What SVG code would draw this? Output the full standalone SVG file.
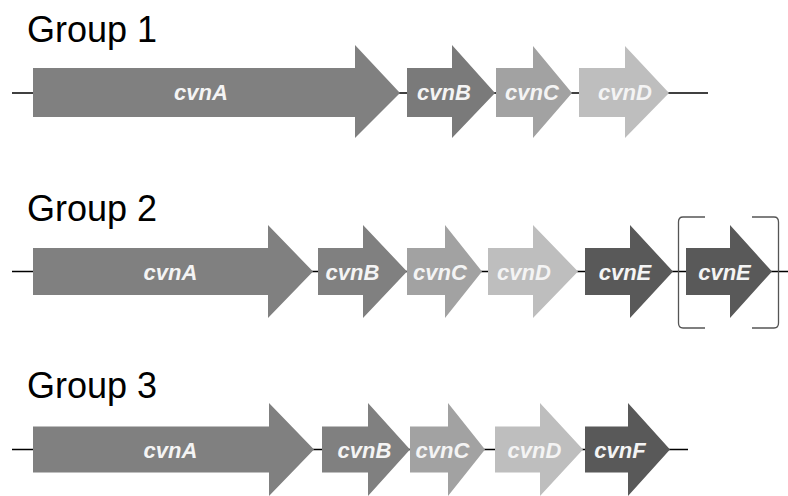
<svg xmlns="http://www.w3.org/2000/svg" width="788" height="496" viewBox="0 0 788 496">
<style>
.title{font-family:"Liberation Sans",Arial,sans-serif;font-size:36px;fill:#000}
.lbl{font-family:"Liberation Sans",Arial,sans-serif;font-size:22px;font-weight:bold;font-style:italic;fill:#f4f4f4;text-anchor:middle}
.bb{stroke:#000;stroke-width:1.6;fill:none}
.br{stroke:#555;stroke-width:1.3;fill:none}
.a{fill:#808080}.b{fill:#7a7a7a}.c{fill:#a2a2a2}.d{fill:#bebebe}.e{fill:#595959}
</style>
<rect width="788" height="496" fill="#fff"/>
<g id="titles">
<text class="title" x="27" y="42">Group 1</text>
<text class="title" x="27" y="221">Group 2</text>
<text class="title" x="27" y="398">Group 3</text>
</g>
<g id="connectors">
<line class="bb" x1="12" y1="93" x2="708" y2="93"/>
<line class="bb" x1="12" y1="271.5" x2="788" y2="271.5"/>
<line class="bb" x1="12" y1="449.5" x2="688" y2="449.5"/>
</g>
<!-- Group 1 -->
<g id="g1-cvnA"><polygon class="a" points="33,68 355,68 355,45 400,93 355,138 355,117 33,117"/><text class="lbl" x="201" y="100">cvnA</text></g>
<g id="g1-cvnB"><polygon class="b" points="407,68 452,68 452,45 495,93 452,138 452,117 407,117"/><text class="lbl" x="444" y="100">cvnB</text></g>
<g id="g1-cvnC"><polygon class="c" points="496,68 533,68 533,46 572,93 533,138 533,117 496,117"/><text class="lbl" x="532" y="100">cvnC</text></g>
<g id="g1-cvnD"><polygon class="d" points="579,68 625,68 625,46 669,93 625,138 625,117 579,117"/><text class="lbl" x="625" y="100">cvnD</text></g>
<!-- Group 2 -->
<g id="g2-cvnA"><polygon class="a" points="33,248 268,248 268,225 313,271.5 268,318 268,295 33,295"/><text class="lbl" x="170.5" y="279.5">cvnA</text></g>
<g id="g2-cvnB"><polygon class="a" points="318,248 363,248 363,225 407,271.5 363,318 363,295 318,295"/><text class="lbl" x="352.5" y="279.5">cvnB</text></g>
<g id="g2-cvnC"><polygon class="c" points="407,248 445,248 445,225 482,271.5 445,318 445,295 407,295"/><text class="lbl" x="440" y="279.5">cvnC</text></g>
<g id="g2-cvnD"><polygon class="d" points="488,248 533,248 533,225 578,271.5 533,318 533,295 488,295"/><text class="lbl" x="524" y="279.5">cvnD</text></g>
<g id="g2-cvnE"><polygon class="e" points="585,248 630,248 630,225 673,271.5 630,318 630,295 585,295"/><text class="lbl" x="625" y="279.5">cvnE</text></g>
<g id="g2-cvnE2"><polygon class="e" points="686,248 730,248 730,225 772,271.5 730,318 730,295 686,295"/><text class="lbl" x="724.5" y="279.5">cvnE</text></g>
<g id="bracket">
<path class="br" d="M705,217 H683 Q678.5,217 678.5,222 V323 Q678.5,328 683,328 H705"/>
<path class="br" d="M752,217 H774 Q778.5,217 778.5,222 V323 Q778.5,328 774,328 H752"/>
</g>
<!-- Group 3 -->
<g id="g3-cvnA"><polygon class="a" points="33,426.5 269,426.5 269,403 314,449.5 269,496 269,472.5 33,472.5"/><text class="lbl" x="170.5" y="457.5">cvnA</text></g>
<g id="g3-cvnB"><polygon class="a" points="322,426.5 368,426.5 368,403 410,449.5 368,496 368,472.5 322,472.5"/><text class="lbl" x="364.5" y="457.5">cvnB</text></g>
<g id="g3-cvnC"><polygon class="c" points="410,426.5 448,426.5 448,403 485,449.5 448,496 448,472.5 410,472.5"/><text class="lbl" x="442.5" y="457.5">cvnC</text></g>
<g id="g3-cvnD"><polygon class="d" points="495,426.5 540,426.5 540,403 583,449.5 540,496 540,472.5 495,472.5"/><text class="lbl" x="534.5" y="457.5">cvnD</text></g>
<g id="g3-cvnF"><polygon class="e" points="585,426.5 628,426.5 628,403 670,449.5 628,496 628,472.5 585,472.5"/><text class="lbl" x="620" y="457.5">cvnF</text></g>
</svg>
